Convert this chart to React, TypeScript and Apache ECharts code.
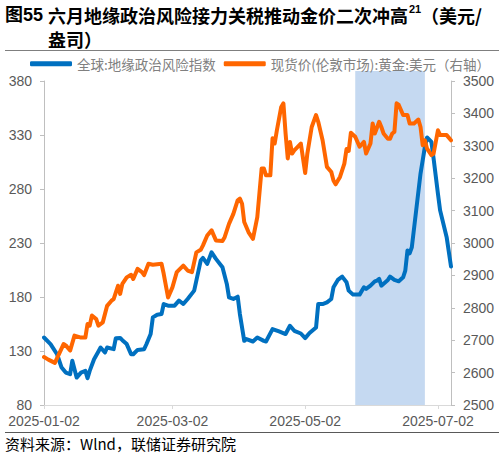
import React, { useEffect, useRef } from "react";
import * as echarts from "echarts";

// 全球:地缘政治风险指数 (left axis)
const gprDates = [
  "2025-01-02","2025-01-05","2025-01-08","2025-01-10","2025-01-12","2025-01-14","2025-01-15","2025-01-17",
  "2025-01-19","2025-01-21","2025-01-22","2025-01-23","2025-01-25","2025-01-27","2025-01-28","2025-01-30",
  "2025-01-31","2025-02-03","2025-02-04","2025-02-06","2025-02-07","2025-02-09","2025-02-11","2025-02-12",
  "2025-02-14","2025-02-17","2025-02-18","2025-02-20","2025-02-21","2025-02-23","2025-02-25","2025-02-26",
  "2025-02-28","2025-03-03","2025-03-05","2025-03-07","2025-03-09","2025-03-12","2025-03-13","2025-03-15",
  "2025-03-16","2025-03-18","2025-03-20","2025-03-22","2025-03-25","2025-03-27","2025-03-28","2025-03-30",
  "2025-04-01","2025-04-02","2025-04-04","2025-04-05","2025-04-08","2025-04-10","2025-04-13","2025-04-14",
  "2025-04-17","2025-04-20","2025-04-23","2025-04-25","2025-04-27","2025-04-30","2025-05-02","2025-05-04",
  "2025-05-07","2025-05-08","2025-05-10","2025-05-12","2025-05-14","2025-05-15","2025-05-17","2025-05-19",
  "2025-05-21","2025-05-22","2025-05-24","2025-05-27","2025-05-29","2025-05-30","2025-06-01","2025-06-03",
  "2025-06-04","2025-06-05","2025-06-06","2025-06-09","2025-06-10","2025-06-12","2025-06-14","2025-06-16",
  "2025-06-17","2025-06-18","2025-06-19","2025-06-20","2025-06-22","2025-06-24","2025-06-26","2025-06-27",
  "2025-06-29","2025-06-30","2025-07-02","2025-07-03","2025-07-06","2025-07-08"
];
const gprValues = [
  142.5,136.4,127,115,110,108.5,120.9,105.4,
  110,111.6,104.8,111.6,122.4,129.5,133.2,128.6,
  133.2,131.7,141.9,142,140,136.4,127.1,127,
  131,131.7,136,145.7,161.1,163.6,164.2,173.5,
  172,172,176.6,173.5,178.2,185.9,195.2,213.7,
  216.2,210.7,221.4,215.3,207.5,192.1,179.7,178.2,
  180.3,164.2,139.4,141,138.8,142.5,139.4,138.8,
  150.3,148.1,145.7,153.4,148.7,146.2,141.9,146.6,
  151.8,173.5,173.5,175,178.2,189,195.8,198.9,
  193.6,185.9,182.2,182.2,189,187.5,190.5,194.5,
  195.2,196.7,190.5,195.8,198.9,195.8,194.5,198.2,
  204.4,223,220.5,226.1,260.2,294.3,319,327.7,
  323.6,308.2,275.7,260.2,235.4,208.2
];

// 现货价(伦敦市场):黄金:美元 (right axis)
const goldDates = [
  "2025-01-02","2025-01-04","2025-01-07","2025-01-11","2025-01-12","2025-01-14","2025-01-16","2025-01-19",
  "2025-01-21","2025-01-22","2025-01-23","2025-01-24","2025-01-26","2025-01-27","2025-01-29","2025-01-31",
  "2025-02-02","2025-02-03","2025-02-05","2025-02-06","2025-02-07","2025-02-09","2025-02-11","2025-02-12",
  "2025-02-14","2025-02-16","2025-02-17","2025-02-19","2025-02-21","2025-02-25","2025-02-26","2025-02-28",
  "2025-03-02","2025-03-04","2025-03-07","2025-03-09","2025-03-11","2025-03-13","2025-03-15","2025-03-16",
  "2025-03-18","2025-03-20","2025-03-22","2025-03-25","2025-03-26","2025-03-28","2025-03-30","2025-04-01",
  "2025-04-02","2025-04-03","2025-04-04","2025-04-06","2025-04-08","2025-04-10","2025-04-12","2025-04-13",
  "2025-04-14","2025-04-16","2025-04-17","2025-04-18","2025-04-19","2025-04-21","2025-04-22","2025-04-23",
  "2025-04-24","2025-04-25","2025-04-26","2025-04-27","2025-04-30","2025-05-02","2025-05-03","2025-05-05",
  "2025-05-07","2025-05-08","2025-05-10","2025-05-12","2025-05-14","2025-05-15","2025-05-16","2025-05-18",
  "2025-05-20","2025-05-21","2025-05-22","2025-05-23","2025-05-25","2025-05-27","2025-05-29","2025-05-30",
  "2025-06-01","2025-06-02","2025-06-03","2025-06-05","2025-06-06","2025-06-07","2025-06-09","2025-06-10",
  "2025-06-11","2025-06-12","2025-06-13","2025-06-14","2025-06-16","2025-06-18","2025-06-19","2025-06-21",
  "2025-06-23","2025-06-24","2025-06-25","2025-06-26","2025-06-27","2025-06-29","2025-06-30","2025-07-02",
  "2025-07-03","2025-07-06","2025-07-08"
];
const goldValues = [
  2648,2640,2630,2688,2684,2668,2714,2708,
  2708,2750,2745,2776,2765,2745,2755,2806,
  2822,2827,2868,2843,2874,2894,2902,2889,
  2920,2910,2901,2936,2933,2936,2905,2832,
  2863,2910,2930,2915,2910,2971,2979,2992,
  3023,3039,3008,3006,3018,3059,3090,3132,
  3137,3121,3065,3033,3013,3080,3230,3230,
  3209,3209,3323,3307,3348,3420,3431,3338,
  3261,3312,3276,3286,3307,3216,3276,3358,
  3395,3374,3317,3235,3219,3193,3181,3204,
  3245,3290,3284,3340,3328,3297,3312,3276,
  3307,3369,3338,3374,3358,3338,3322,3322,
  3338,3343,3431,3426,3395,3395,3369,3369,
  3381,3358,3302,3317,3291,3271,3276,3348,
  3333,3333,3317
];

const xRange = ["2025-01-02", "2025-07-08"];
const xTickDates = ["2025-01-02", "2025-03-02", "2025-05-02", "2025-07-02"];
const shadeRange = ["2025-05-25", "2025-06-26"];
const leftAxis = { min: 80, max: 380, interval: 50 };
const rightAxis = { min: 2500, max: 3500, interval: 100 };

const seriesNames = ["全球:地缘政治风险指数", "现货价(伦敦市场):黄金:美元（右轴）"];

function ts(s: string): number {
  const [y, m, d] = s.split("-").map(Number);
  return Date.UTC(y, m - 1, d);
}
function pad(n: number): string {
  return n < 10 ? "0" + n : String(n);
}
function fmt(v: number): string {
  const d = new Date(v);
  return `${d.getUTCFullYear()}-${pad(d.getUTCMonth() + 1)}-${pad(d.getUTCDate())}`;
}

const NUM_FONT = "Liberation Sans, Arial, Noto Sans CJK SC, sans-serif";
const CJK_FONT = "Noto Sans CJK SC, Liberation Sans, sans-serif";

export default function App() {
  const ref = useRef<HTMLDivElement>(null);
  useEffect(() => {
    document.body.style.margin = "0";
    if (!ref.current) return;
    const chart = echarts.init(ref.current, null, { renderer: "svg" });
    const xMin = ts(xRange[0]);
    const xMax = ts(xRange[1]);
    const tickVals = xTickDates.map(ts);

    const option: any = {
      animation: false,
      backgroundColor: "#ffffff",
      grid: [
        { left: 44, right: 53, top: 81, bottom: 57 },
        { left: 44, right: 53, top: 71, bottom: 57 },
      ],
      legend: {
        data: seriesNames,
        left: 30,
        top: 57,
        padding: 0,
        icon: "roundRect",
        itemWidth: 42,
        itemHeight: 5,
        itemGap: 8,
        textStyle: { color: "#808080", fontSize: 13.5, lineHeight: 12, fontFamily: CJK_FONT },
        z: 10,
      },
      xAxis: [
        {
          type: "value",
          gridIndex: 0,
          min: xMin,
          max: xMax,
          axisLine: { show: true, lineStyle: { color: "#d9d9d9", width: 1 } },
          axisTick: { show: true, length: 4, lineStyle: { color: "#d9d9d9" }, customValues: tickVals },
          axisLabel: {
            customValues: tickVals,
            formatter: (v: number) => fmt(v),
            color: "#595959",
            fontSize: 14,
            fontFamily: NUM_FONT,
            margin: 9,
            showMinLabel: true,
            showMaxLabel: true,
          },
          splitLine: { show: false },
        },
        {
          type: "value",
          gridIndex: 1,
          min: xMin,
          max: xMax,
          show: false,
        },
      ],
      yAxis: [
        {
          type: "value",
          gridIndex: 0,
          min: leftAxis.min,
          max: leftAxis.max,
          interval: leftAxis.interval,
          axisLine: { show: true, lineStyle: { color: "#bfbfbf" } },
          axisTick: { show: true, length: 4, lineStyle: { color: "#bfbfbf" } },
          axisLabel: {
            color: "#595959",
            fontSize: 14,
            lineHeight: 14,
            fontFamily: NUM_FONT,
            margin: 12,
            formatter: (v: number) => String(v),
          },
          splitLine: { show: false },
        },
        {
          type: "value",
          gridIndex: 0,
          position: "right",
          min: rightAxis.min,
          max: rightAxis.max,
          interval: rightAxis.interval,
          axisLine: { show: true, lineStyle: { color: "#bfbfbf" } },
          axisTick: { show: true, length: 4, lineStyle: { color: "#bfbfbf" } },
          axisLabel: {
            color: "#595959",
            fontSize: 14,
            lineHeight: 14,
            fontFamily: NUM_FONT,
            margin: 12,
            formatter: (v: number) => String(v),
          },
          splitLine: { show: false },
        },
        {
          type: "value",
          gridIndex: 1,
          min: 0,
          max: 1,
          show: false,
        },
      ],
      series: [
        {
          name: "shade",
          type: "line",
          xAxisIndex: 1,
          yAxisIndex: 2,
          data: [[xMin, 0]],
          showSymbol: false,
          lineStyle: { opacity: 0 },
          silent: true,
          z: 0,
          markArea: {
            silent: true,
            itemStyle: { color: "#c5d9f1", opacity: 1 },
            data: [[{ xAxis: ts(shadeRange[0]) }, { xAxis: ts(shadeRange[1]) }]],
          },
        },
        {
          name: seriesNames[0],
          type: "line",
          xAxisIndex: 0,
          yAxisIndex: 0,
          data: gprDates.map((d, i) => [ts(d), gprValues[i]]),
          showSymbol: false,
          symbol: "none",
          itemStyle: { color: "#0070c0" },
          lineStyle: { color: "#0070c0", width: 4, cap: "round", join: "round" },
          z: 3,
        },
        {
          name: seriesNames[1],
          type: "line",
          xAxisIndex: 0,
          yAxisIndex: 1,
          data: goldDates.map((d, i) => [ts(d), goldValues[i]]),
          showSymbol: false,
          symbol: "none",
          itemStyle: { color: "#ff6600" },
          lineStyle: { color: "#ff6600", width: 4, cap: "round", join: "round" },
          z: 4,
        },
      ],
      graphic: [
        {
          type: "text",
          x: 5,
          y: 15,
          style: { text: "图55", font: `bold 18px ${NUM_FONT}`, fill: "#000", verticalAlign: "middle" },
        },
        {
          type: "text",
          x: 48,
          y: 15,
          style: {
            text: "六月地缘政治风险接力关税推动金价二次冲高",
            font: `bold 18px ${CJK_FONT}`,
            fill: "#000",
            verticalAlign: "middle",
          },
        },
        {
          type: "text",
          x: 409,
          y: 9,
          style: { text: "21", font: `bold 11px ${NUM_FONT}`, fill: "#000", verticalAlign: "middle" },
        },
        {
          type: "text",
          x: 421,
          y: 15,
          style: { text: "（美元/", font: `bold 18px ${CJK_FONT}`, fill: "#000", verticalAlign: "middle" },
        },
        {
          type: "text",
          x: 48,
          y: 39,
          style: { text: "盎司）", font: `bold 18px ${CJK_FONT}`, fill: "#000", verticalAlign: "middle" },
        },
        {
          type: "line",
          shape: { x1: 5, y1: 50.5, x2: 499, y2: 50.5 },
          style: { stroke: "#7f7f7f", lineWidth: 1 },
        },
        {
          type: "line",
          shape: { x1: 5, y1: 432.5, x2: 499, y2: 432.5 },
          style: { stroke: "#595959", lineWidth: 1 },
        },
        {
          type: "text",
          x: 5,
          y: 443,
          style: {
            text: "资料来源：Wlnd，联储证券研究院",
            font: `15px ${CJK_FONT}`,
            fill: "#000",
            verticalAlign: "middle",
          },
        },
      ],
    };
    chart.setOption(option);
    return () => chart.dispose();
  }, []);
  return <div ref={ref} style={{ width: 504, height: 462 }} />;
}
